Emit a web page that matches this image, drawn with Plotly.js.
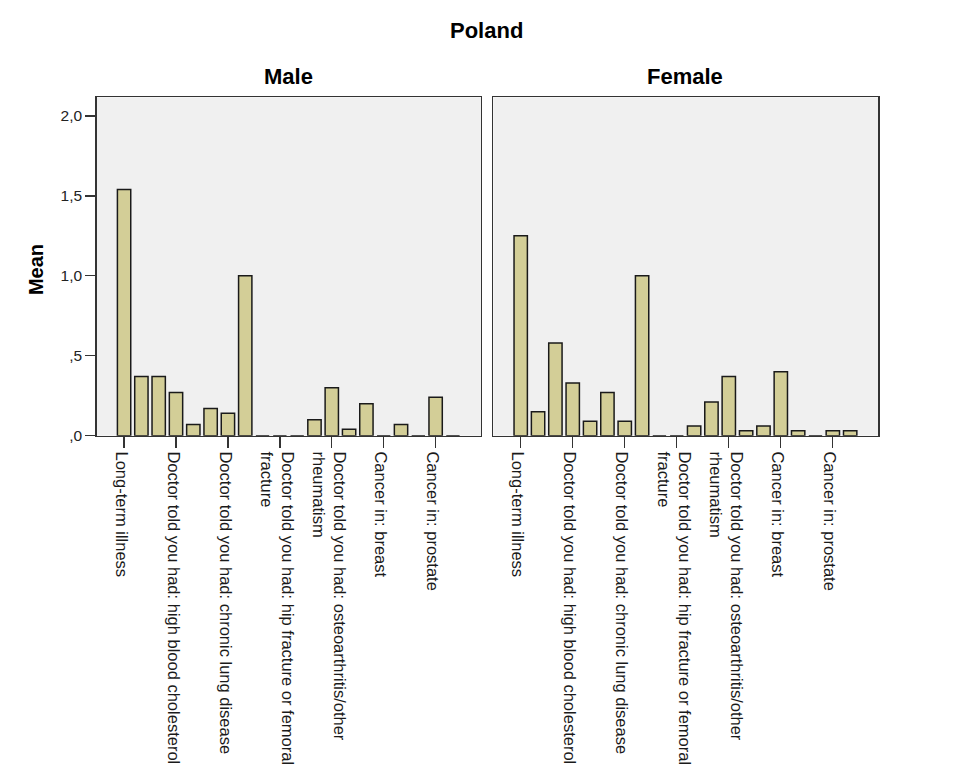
<!DOCTYPE html>
<html>
<head>
<meta charset="utf-8">
<script src="https://cdn.plot.ly/plotly-3.0.1.min.js"></script>
<style>html,body{margin:0;padding:0;background:#fff;}#chart{width:979px;height:784px;}</style>
</head>
<body>
<div id="chart"></div>
<script>
// ---- data ----
var categories = [
  "Long-term illness",
  "Doctor told you had: heart attack",
  "Doctor told you had: high blood pressure or hypertension",
  "Doctor told you had: high blood cholesterol",
  "Doctor told you had: stroke",
  "Doctor told you had: diabetes or high blood sugar",
  "Doctor told you had: chronic lung disease",
  "Doctor told you had: cancer",
  "Doctor told you had: stomach or duodenal ulcer",
  "Doctor told you had: hip fracture or femoral fracture",
  "Doctor told you had: other fractures",
  "Doctor told you had: rheumatoid arthritis",
  "Doctor told you had: osteoarthritis/other rheumatism",
  "Doctor told you had: other conditions",
  "Cancer in: lung",
  "Cancer in: breast",
  "Cancer in: stomach",
  "Cancer in: colon or rectum",
  "Cancer in: prostate",
  "Cancer in: other organ"
];
var maleMeans   = [1.54, 0.37, 0.37, 0.27, 0.07, 0.17, 0.14, 1.00, 0, 0, 0, 0.10, 0.30, 0.04, 0.20, 0, 0.07, 0, 0.24, 0];
var femaleMeans = [1.25, 0.15, 0.58, 0.33, 0.09, 0.27, 0.09, 1.00, 0, 0, 0.06, 0.21, 0.37, 0.03, 0.06, 0.40, 0.03, 0, 0.03, 0.03];
var tickCategories = [
  "Long-term illness",
  "Doctor told you had: high blood cholesterol",
  "Doctor told you had: chronic lung disease",
  "Doctor told you had: hip fracture or femoral fracture",
  "Doctor told you had: osteoarthritis/other rheumatism",
  "Cancer in: breast",
  "Cancer in: prostate"
];
var tickLabels = [
  "Long-term illness",
  "Doctor told you had: high blood cholesterol",
  "Doctor told you had: chronic lung disease",
  "Doctor told you had: hip fracture or femoral<br>fracture",
  "Doctor told you had: osteoarthritis/other<br>rheumatism",
  "Cancer in: breast",
  "Cancer in: prostate"
];
var yTickVals = [0, 0.5, 1.0, 1.5, 2.0];
var yTickText = [",0", ",5", "1,0", "1,5", "2,0"];
var panelTitles = ["Male", "Female"];
var chartTitle = "Poland";
var yTitle = "Mean";

// ---- styles ----
var FONT = "'Liberation Sans', Arial, Helvetica, sans-serif";
var barFill = "#d3ce97";
var barLine = "#1a1a1a";
var frame = "#333333";

var barStyle = {color: barFill, line: {color: barLine, width: 1.5}};

var traces = [
  {type: "bar", x: categories, y: maleMeans, xaxis: "x", yaxis: "y", marker: barStyle, hoverinfo: "x+y"},
  {type: "bar", x: categories, y: femaleMeans, xaxis: "x2", yaxis: "y2", marker: barStyle, hoverinfo: "x+y"}
];

function xAxis(domain, anchor) {
  return {
    domain: domain, anchor: anchor, type: "category",
    range: [-1.58, 20.62],
    showline: true, mirror: true, linecolor: frame, linewidth: 1.5,
    ticks: "outside", ticklen: 11, tickwidth: 1.3, tickcolor: frame,
    tickmode: "array", tickvals: tickCategories, ticktext: tickLabels,
    tickangle: 90, ticklabelshift: -3,
    tickfont: {family: FONT, size: 16.5, color: "#1a1a1a"},
    showgrid: false, zeroline: false, fixedrange: true
  };
}
function yAxis(anchor, showTicks) {
  return {
    domain: [0.4443, 0.8759], anchor: anchor, range: [0, 2.117],
    showline: true, mirror: true, linecolor: frame, linewidth: 1.5,
    ticks: showTicks ? "outside" : "", ticklen: 10, tickwidth: 1.3, tickcolor: frame,
    tickmode: "array", tickvals: yTickVals, ticktext: yTickText,
    showticklabels: showTicks, tickfont: {family: FONT, size: 15.5, color: "#222"},
    showgrid: false, zeroline: false, fixedrange: true
  };
}

var layout = {
  width: 979, height: 784,
  margin: {l: 0, r: 0, t: 0, b: 0},
  paper_bgcolor: "#ffffff", plot_bgcolor: "#f0f0f0",
  showlegend: false, bargap: 0.23,
  font: {family: FONT, color: "#000"},
  xaxis: xAxis([0.0988, 0.4913], "y"),
  yaxis: yAxis("x", true),
  xaxis2: xAxis([0.5039, 0.8971], "y2"),
  yaxis2: yAxis("x2", false),
  annotations: [
    {text: "<b>" + chartTitle + "</b>", xref: "paper", yref: "paper", x: 0.4974, y: 0.9605,
     xanchor: "center", yanchor: "middle", showarrow: false, font: {family: FONT, size: 22, color: "#000"}},
    {text: "<b>" + panelTitles[0] + "</b>", xref: "paper", yref: "paper", x: 0.2945, y: 0.9018,
     xanchor: "center", yanchor: "middle", showarrow: false, font: {family: FONT, size: 22, color: "#000"}},
    {text: "<b>" + panelTitles[1] + "</b>", xref: "paper", yref: "paper", x: 0.7000, y: 0.9018,
     xanchor: "center", yanchor: "middle", showarrow: false, font: {family: FONT, size: 22, color: "#000"}},
    {text: "<b>" + yTitle + "</b>", xref: "paper", yref: "paper", x: 0.0368, y: 0.6556,
     xanchor: "center", yanchor: "middle", textangle: -90, showarrow: false, font: {family: FONT, size: 20, color: "#000"}}
  ]
};

Plotly.newPlot("chart", traces, layout, {displayModeBar: false, staticPlot: true});
</script>
</body>
</html>
